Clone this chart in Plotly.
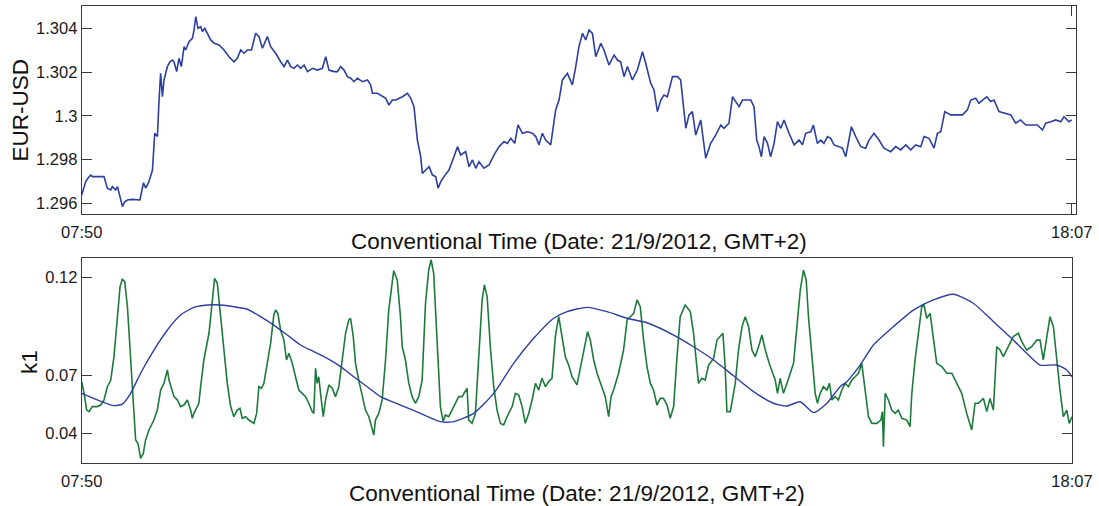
import pandas as pd
import plotly.graph_objects as go

# ---------------- data ----------------
session_start = pd.Timestamp("2012-09-21 07:50")
session_end = pd.Timestamp("2012-09-21 18:07")

# EUR-USD quote (minutes after 07:50, rate)
fx_minutes = [
    0, 2.5, 3.9, 5.6, 6.7, 8.7, 11.8, 13.9, 16.0, 18.1, 19.1, 21.2, 22.3, 23.2, 25.4, 26.8,
    28.5, 31.6, 34.7, 36.3, 38.5, 39.9, 41.9, 44.1, 45.5, 47.2, 48.2, 49.2, 50.3, 51.3, 53.4,
    55.0, 56.5, 57.5, 59.2, 60.6, 62.1, 63.8, 64.8, 66.9, 69.0, 70.0, 71.1, 72.5, 74.2, 75.2,
    76.7, 78.3, 80.4, 82.5, 85.6, 88.7, 91.8, 94.9, 97.0, 99.1, 101.2, 103.3, 105.8, 108.4,
    110.5, 112.6, 115.7, 117.8, 120.9, 124.0, 126.1, 128.2, 130.3, 132.3, 134.4, 136.5, 138.6,
    140.7, 143.8, 146.9, 150.0, 152.1, 154.1, 157.2, 159.4, 161.4, 163.5, 165.6, 167.7, 169.7,
    171.8, 174.9, 178.1, 180.1, 181.2, 184.3, 186.4, 189.5, 191.5, 193.6, 195.7, 197.8, 199.9,
    203.0, 205.1, 207.1, 209.2, 211.3, 212.3, 214.4, 216.5, 218.6, 220.6, 222.1, 223.8, 225.8,
    228.9, 232.0, 234.2, 236.2, 239.3, 241.4, 243.5, 245.6, 247.6, 250.7, 253.9, 257.0, 260.1,
    263.2, 265.3, 267.4, 269.9, 271.9, 274.7, 277.8, 280.9, 283.0, 285.0, 287.1, 289.2, 292.3,
    295.4, 297.5, 299.6, 302.7, 305.8, 307.9, 309.9, 312.1, 314.1, 316.2, 318.3, 320.4, 323.5,
    325.5, 328.6, 331.8, 333.9, 335.9, 338.0, 340.1, 343.2, 346.3, 349.5, 351.5, 354.6, 356.7,
    358.8, 360.9, 362.9, 365.0, 368.2, 371.3, 373.3, 376.5, 378.5, 380.6, 382.7, 385.8, 388.9,
    392.0, 395.1, 398.3, 400.3, 403.4, 405.6, 407.6, 409.7, 411.8, 413.8, 417.0, 419.0, 420.7,
    422.1, 423.6, 425.3, 427.4, 429.4, 431.5, 433.6, 435.7, 437.7, 440.8, 444.0, 447.1, 449.2,
    451.2, 454.4, 456.0, 458.5, 460.6, 462.6, 464.8, 466.8, 468.9, 472.0, 474.1, 476.2, 478.2,
    479.7, 482.4, 485.5, 488.6, 490.7, 493.8, 496.9, 500.0, 504.2, 507.3, 510.4, 513.6, 516.7,
    519.8, 522.9, 525.0, 528.1, 531.2, 533.3, 535.4, 537.9, 541.6, 545.8, 548.9, 552.0, 554.1,
    557.2, 559.2, 561.4, 564.0, 566.5, 568.6, 571.7, 575.9, 579.0, 582.1, 585.2, 588.3, 591.5,
    595.6, 598.8, 600.8, 603.9, 607.1, 610.2, 612.2, 615.3, 617.0,
]
fx_rate = [
    1.29638, 1.29699, 1.29714, 1.29729, 1.29722, 1.29722, 1.29722, 1.29722, 1.29669, 1.29661,
    1.29676, 1.29661, 1.29676, 1.29653, 1.29585, 1.29607, 1.29615, 1.29618, 1.29615, 1.29615,
    1.29694, 1.29669, 1.29699, 1.29752, 1.29920, 1.29905, 1.30072, 1.30194, 1.30087, 1.30164,
    1.30225, 1.30247, 1.30255, 1.30247, 1.30202, 1.30263, 1.30225, 1.30316, 1.30301, 1.30339,
    1.30354, 1.30392, 1.30453, 1.30400, 1.30407, 1.30385, 1.30400, 1.30377, 1.30347, 1.30332,
    1.30324, 1.30301, 1.30270, 1.30247, 1.30263, 1.30301, 1.30286, 1.30301, 1.30301, 1.30377,
    1.30362, 1.30309, 1.30362, 1.30316, 1.30286, 1.30247, 1.30225, 1.30255, 1.30225, 1.30217,
    1.30232, 1.30217, 1.30232, 1.30202, 1.30217, 1.30209, 1.30217, 1.30270, 1.30209, 1.30202,
    1.30202, 1.30225, 1.30209, 1.30179, 1.30172, 1.30156, 1.30172, 1.30156, 1.30164, 1.30141,
    1.30103, 1.30103, 1.30095, 1.30080, 1.30049, 1.30072, 1.30072, 1.30080, 1.30087, 1.30103,
    1.30080, 1.30042, 1.29889, 1.29813, 1.29737, 1.29752, 1.29767, 1.29729, 1.29722, 1.29669,
    1.29699, 1.29722, 1.29752, 1.29813, 1.29859, 1.29821, 1.29836, 1.29767, 1.29798, 1.29760,
    1.29790, 1.29760, 1.29775, 1.29821, 1.29859, 1.29882, 1.29874, 1.29897, 1.29874, 1.29958,
    1.29920, 1.29927, 1.29920, 1.29905, 1.29867, 1.29920, 1.29889, 1.29867, 1.30027, 1.30072,
    1.30164, 1.30194, 1.30141, 1.30225, 1.30316, 1.30377, 1.30347, 1.30392, 1.30377, 1.30270,
    1.30331, 1.30301, 1.30232, 1.30278, 1.30255, 1.30247, 1.30179, 1.30225, 1.30164, 1.30209,
    1.30293, 1.30240, 1.30149, 1.30118, 1.30019, 1.30072, 1.30095, 1.30087, 1.30179, 1.30179,
    1.30164, 1.29943, 1.30004, 1.30019, 1.29912, 1.29981, 1.29806, 1.29874, 1.29912, 1.29958,
    1.29943, 1.29966, 1.30087, 1.30065, 1.30042, 1.30072, 1.30072, 1.30072, 1.30042, 1.29889,
    1.29859, 1.29813, 1.29905, 1.29874, 1.29813, 1.29874, 1.29973, 1.29943, 1.29981, 1.29920,
    1.29867, 1.29889, 1.29867, 1.29920, 1.29927, 1.29958, 1.29874, 1.29889, 1.29874, 1.29905,
    1.29897, 1.29867, 1.29859, 1.29852, 1.29813, 1.29889, 1.29950, 1.29905, 1.29859, 1.29852,
    1.29889, 1.29920, 1.29889, 1.29852, 1.29836, 1.29859, 1.29844, 1.29867, 1.29844, 1.29867,
    1.29859, 1.29905, 1.29897, 1.29852, 1.29920, 1.29927, 1.30019, 1.30004, 1.30004, 1.30004,
    1.30027, 1.30072, 1.30080, 1.30057, 1.30072, 1.30087, 1.30065, 1.30072, 1.30019, 1.30012,
    1.30004, 1.29966, 1.29981, 1.29958, 1.29958, 1.29958, 1.29935, 1.29966, 1.29973, 1.29981,
    1.29973, 1.29996, 1.29973, 1.29981,
]

# k1 estimate (minutes after 07:50, value)
k1_minutes = [
    0, 1.5, 3.1, 4.6, 6.6, 9.8, 11.8, 13.9, 16.0, 18.1, 20.1, 22.2, 23.9, 25.3, 26.8, 28.5,
    30.5, 32.6, 33.6, 35.1, 36.7, 38.4, 39.8, 41.9, 45.0, 47.1, 49.2, 51.2, 53.4, 54.4, 56.5,
    57.5, 59.6, 61.6, 63.7, 65.8, 67.9, 68.9, 69.9, 73.0, 74.1, 76.1, 79.3, 81.4, 82.8, 84.5,
    86.5, 88.6, 90.7, 92.8, 94.8, 96.9, 98.6, 100.0, 102.1, 104.2, 107.3, 109.0, 110.4, 111.9,
    113.5, 115.6, 117.7, 119.7, 120.8, 122.2, 123.9, 126.0, 127.6, 129.1, 131.2, 133.2, 135.3,
    137.4, 139.5, 141.5, 143.6, 144.6, 145.7, 146.7, 147.7, 148.8, 150.5, 151.9, 154.0, 156.1,
    158.1, 160.2, 162.3, 164.4, 166.4, 167.5, 169.2, 170.6, 172.6, 174.8, 176.8, 178.9, 181.0,
    182.0, 183.0, 185.1, 187.2, 189.3, 191.3, 193.4, 194.4, 196.6, 198.6, 199.7, 201.7, 203.8,
    205.9, 207.9, 210.0, 212.1, 214.2, 216.2, 217.7, 219.3, 221.5, 223.5, 225.2, 226.6, 228.7,
    230.8, 232.8, 234.9, 237.0, 239.1, 240.1, 241.1, 243.2, 245.3, 247.4, 249.5, 250.9, 252.6,
    254.6, 256.7, 258.8, 260.9, 262.9, 265.0, 268.2, 270.2, 272.3, 274.4, 276.4, 278.5, 280.6,
    282.7, 284.7, 286.8, 288.9, 290.9, 293.0, 295.1, 297.2, 299.3, 301.3, 303.4, 305.5, 308.6,
    310.7, 313.2, 315.2, 316.9, 319.0, 321.1, 323.1, 326.2, 328.3, 329.8, 331.4, 334.5, 337.6,
    339.8, 341.8, 343.9, 346.0, 348.0, 350.1, 352.2, 354.3, 356.3, 358.4, 360.5, 362.5, 364.7,
    366.7, 368.8, 370.9, 372.9, 376.0, 379.2, 381.2, 383.3, 384.3, 386.4, 388.5, 390.6, 393.7,
    395.8, 397.8, 399.5, 400.9, 402.0, 404.1, 407.2, 409.2, 411.4, 413.4, 415.5, 417.6, 419.6,
    421.7, 423.8, 425.9, 429.0, 432.1, 433.5, 435.2, 437.2, 439.4, 441.4, 443.5, 445.6, 447.7,
    449.7, 451.4, 452.8, 454.9, 457.0, 458.4, 460.1, 462.1, 464.3, 465.9, 467.4, 469.4, 471.5,
    473.6, 475.7, 477.7, 479.8, 481.9, 484.0, 486.0, 488.1, 490.2, 492.3, 495.4, 497.9, 498.9,
    499.5, 500.6, 502.6, 504.7, 506.8, 508.8, 511.0, 514.1, 516.1, 517.2, 519.2, 521.3, 523.4,
    524.8, 526.5, 528.6, 530.6, 532.7, 535.9, 539.0, 542.1, 545.2, 548.3, 551.4, 554.5, 556.6,
    558.7, 561.8, 563.9, 565.9, 568.0, 570.1, 572.2, 574.2, 576.3, 580.4, 583.6, 585.7, 588.8,
    591.9, 595.0, 597.1, 599.1, 601.2, 603.3, 605.4, 607.5, 609.5, 611.6, 613.7, 615.3, 617.0,
]
k1_values = [
    0.0667, 0.0607, 0.0521, 0.0513, 0.0539, 0.0539, 0.0547, 0.0573, 0.0641, 0.0675, 0.0795,
    0.1000, 0.1154, 0.1192, 0.1180, 0.1051, 0.0795, 0.0521, 0.0368, 0.0350, 0.0274, 0.0299,
    0.0368, 0.0419, 0.0470, 0.0521, 0.0624, 0.0658, 0.0727, 0.0675, 0.0624, 0.0590, 0.0573,
    0.0539, 0.0547, 0.0573, 0.0521, 0.0479, 0.0504, 0.0556, 0.0641, 0.0778, 0.0915, 0.1086,
    0.1197, 0.1171, 0.1000, 0.0812, 0.0658, 0.0539, 0.0487, 0.0521, 0.0530, 0.0479, 0.0487,
    0.0470, 0.0453, 0.0504, 0.0641, 0.0633, 0.0658, 0.0761, 0.0863, 0.1009, 0.1034, 0.1017,
    0.0932, 0.0880, 0.0778, 0.0812, 0.0761, 0.0692, 0.0624, 0.0607, 0.0590, 0.0556, 0.0513,
    0.0504, 0.0735, 0.0658, 0.0692, 0.0607, 0.0487, 0.0573, 0.0650, 0.0633, 0.0590, 0.0641,
    0.0778, 0.0915, 0.0983, 0.0992, 0.0898, 0.0761, 0.0675, 0.0590, 0.0521, 0.0487, 0.0419,
    0.0393, 0.0470, 0.0504, 0.0573, 0.0778, 0.1034, 0.1180, 0.1236, 0.1188, 0.1000, 0.0846,
    0.0778, 0.0658, 0.0590, 0.0556, 0.0590, 0.0675, 0.1068, 0.1239, 0.1291, 0.1222, 0.0880,
    0.0539, 0.0462, 0.0496, 0.0487, 0.0521, 0.0556, 0.0590, 0.0590, 0.0616, 0.0633, 0.0470,
    0.0453, 0.0504, 0.0778, 0.1086, 0.1163, 0.1103, 0.0846, 0.0641, 0.0521, 0.0453, 0.0445,
    0.0487, 0.0539, 0.0607, 0.0598, 0.0539, 0.0453, 0.0504, 0.0573, 0.0658, 0.0624, 0.0684,
    0.0641, 0.0667, 0.0684, 0.0898, 0.1000, 0.0898, 0.0795, 0.0752, 0.0692, 0.0650, 0.0735,
    0.0846, 0.0923, 0.0880, 0.0778, 0.0710, 0.0658, 0.0590, 0.0487, 0.0590, 0.0624, 0.0710,
    0.0829, 0.0983, 0.1000, 0.1017, 0.1086, 0.1051, 0.0880, 0.0744, 0.0658, 0.0624, 0.0547,
    0.0581, 0.0581, 0.0547, 0.0479, 0.0539, 0.0795, 0.1000, 0.1060, 0.1026, 0.0915, 0.0744,
    0.0658, 0.0684, 0.0675, 0.0752, 0.0786, 0.0880, 0.0898, 0.0915, 0.0744, 0.0513, 0.0513,
    0.0658, 0.0829, 0.0949, 0.1000, 0.0949, 0.0829, 0.0795, 0.0846, 0.0906, 0.0829, 0.0744,
    0.0675, 0.0607, 0.0684, 0.0607, 0.0658, 0.0710, 0.0761, 0.0949, 0.1137, 0.1239, 0.1188,
    0.1000, 0.0795, 0.0607, 0.0556, 0.0607, 0.0641, 0.0624, 0.0658, 0.0573, 0.0590, 0.0573,
    0.0624, 0.0658, 0.0641, 0.0675, 0.0692, 0.0710, 0.0761, 0.0624, 0.0487, 0.0453, 0.0453,
    0.0470, 0.0513, 0.0333, 0.0607, 0.0573, 0.0521, 0.0504, 0.0521, 0.0479, 0.0470, 0.0436,
    0.0607, 0.0778, 0.0915, 0.1051, 0.1060, 0.0992, 0.1017, 0.0898, 0.0761, 0.0744, 0.0710,
    0.0710, 0.0658, 0.0607, 0.0504, 0.0419, 0.0556, 0.0556, 0.0581, 0.0513, 0.0581, 0.0521,
    0.0846, 0.0829, 0.0795, 0.0829, 0.0898, 0.0915, 0.0872, 0.0829, 0.0846, 0.0880, 0.0880,
    0.0778, 0.0898, 0.1000, 0.0949, 0.0778, 0.0624, 0.0487, 0.0521, 0.0453, 0.0487,
]

# smoothed k1 trend (minutes after 07:50, value)
trend_minutes = [
    0, 9.8, 20.1, 25.3, 30.5, 36.7, 45.0, 53.4, 61.6, 69.9, 78.3, 86.5, 94.8, 103.2, 111.4,
    119.7, 128.1, 136.3, 144.6, 153.0, 161.3, 169.5, 177.9, 186.2, 198.6, 211.1, 223.5, 231.8,
    244.2, 256.7, 269.1, 281.6, 294.1, 302.4, 314.8, 327.3, 339.7, 352.2, 368.8, 381.2, 393.7,
    406.1, 418.6, 431.0, 439.4, 447.7, 455.9, 464.3, 472.5, 476.7, 485.0, 493.3, 505.7, 518.2,
    530.6, 543.1, 555.5, 568.0, 580.4, 588.8, 597.1, 607.5, 613.7, 617.0,
]
trend_values = [
    0.0607, 0.0573, 0.0544, 0.0552, 0.0607, 0.0710, 0.0829, 0.0932, 0.1009, 0.1048, 0.1060,
    0.1060, 0.1051, 0.1038, 0.1000, 0.0957, 0.0906, 0.0855, 0.0821, 0.0786, 0.0744, 0.0692,
    0.0641, 0.0590, 0.0547, 0.0504, 0.0462, 0.0462, 0.0504, 0.0607, 0.0761, 0.0889, 0.0992,
    0.1026, 0.1048, 0.1026, 0.0992, 0.0969, 0.0906, 0.0846, 0.0778, 0.0697, 0.0616, 0.0556,
    0.0542, 0.0564, 0.0508, 0.0556, 0.0641, 0.0667, 0.0752, 0.0855, 0.0949, 0.1034, 0.1086,
    0.1115, 0.1069, 0.0975, 0.0881, 0.0812, 0.0752, 0.0752, 0.0727, 0.0692,
]

fx_ticks = [1.296, 1.298, 1.3, 1.302, 1.304]
fx_tick_text = ["1.296", "1.298", "1.3", "1.302", "1.304"]
k1_ticks = [0.04, 0.07, 0.12]
k1_tick_text = ["0.04", "0.07", "0.12"]
time_tick_text = ["07:50", "18:07"]
x_title = "Conventional Time (Date: 21/9/2012, GMT+2)"


def to_time(mins):
    return session_start + pd.to_timedelta(pd.Series(mins), unit="min")


# ---------------- figure ----------------
FONT = "Arial, 'Liberation Sans', Helvetica, sans-serif"
BLUE = "#2d3f9e"
GREEN = "#1d7a3b"
AXIS = "#3a3a3a"

fig = go.Figure()
fig.add_trace(go.Scatter(x=to_time(fx_minutes), y=fx_rate, mode="lines",
                         line=dict(color=BLUE, width=1.6), xaxis="x", yaxis="y",
                         showlegend=False))
fig.add_trace(go.Scatter(x=to_time(k1_minutes), y=k1_values, mode="lines",
                         line=dict(color=GREEN, width=1.6), xaxis="x2", yaxis="y2",
                         showlegend=False))
fig.add_trace(go.Scatter(x=to_time(trend_minutes), y=trend_values, mode="lines",
                         line=dict(color=BLUE, width=1.4, shape="spline", smoothing=0.6),
                         xaxis="x2", yaxis="y2", showlegend=False))

W, H = 1099, 506
left_px = 81.7
top_box = dict(x0=left_px, x1=1075.7, y0=6, y1=214)
bot_box = dict(x0=left_px, x1=1072, y0=258, y1=463)


def xdom(b):
    return [b["x0"] / W, b["x1"] / W]


def ydom(b):
    return [1 - b["y1"] / H, 1 - b["y0"] / H]


# top panel extends slightly past the last sample
top_px_per_min = (1071.7 - left_px) / 617.0
top_end = session_start + pd.Timedelta(minutes=(top_box["x1"] - left_px) / top_px_per_min)

axis_common = dict(showline=True, linecolor=AXIS, linewidth=1, mirror="ticks",
                   ticks="inside", ticklen=10, tickwidth=1, tickcolor=AXIS,
                   showgrid=False, zeroline=False, automargin=False,
                   tickfont=dict(family=FONT, size=16.5, color="#1a1a1a"))

fig.update_layout(
    width=W, height=H,
    margin=dict(l=0, r=0, t=0, b=0, autoexpand=False),
    paper_bgcolor="white", plot_bgcolor="white",
    xaxis=dict(domain=xdom(top_box), anchor="y", type="date",
               range=[session_start, top_end],
               tickvals=[session_start, session_end], ticktext=time_tick_text,
               ticklabelstandoff=3, **axis_common),
    yaxis=dict(domain=ydom(top_box), anchor="x",
               range=[1.29551, 1.30502], tickvals=fx_ticks, ticktext=fx_tick_text,
               ticklabelstandoff=0, **axis_common),
    xaxis2=dict(domain=xdom(bot_box), anchor="y2", type="date",
                range=[session_start, session_end],
                tickvals=[session_start, session_end], ticktext=time_tick_text,
                ticklabelstandoff=3, **axis_common),
    yaxis2=dict(domain=ydom(bot_box), anchor="x2",
                range=[0.02497, 0.1301], tickvals=k1_ticks, ticktext=k1_tick_text,
                ticklabelstandoff=0, **axis_common),
)

title_font = dict(family=FONT, size=22.5, color="#111111")
annotations = [
    dict(text=x_title, x=(top_box["x0"] + top_box["x1"]) / 2 / W, y=1 - 241 / H),
    dict(text=x_title, x=(bot_box["x0"] + bot_box["x1"]) / 2 / W, y=1 - 493 / H),
    dict(text="EUR-USD", x=20.5 / W, y=1 - 110 / H, textangle=-90),
    dict(text="k1", x=29 / W, y=1 - 362 / H, textangle=-90),
]
for a in annotations:
    fig.add_annotation(xref="paper", yref="paper", showarrow=False,
                       xanchor="center", yanchor="middle", font=title_font, **a)

fig.write_html("out.html")
